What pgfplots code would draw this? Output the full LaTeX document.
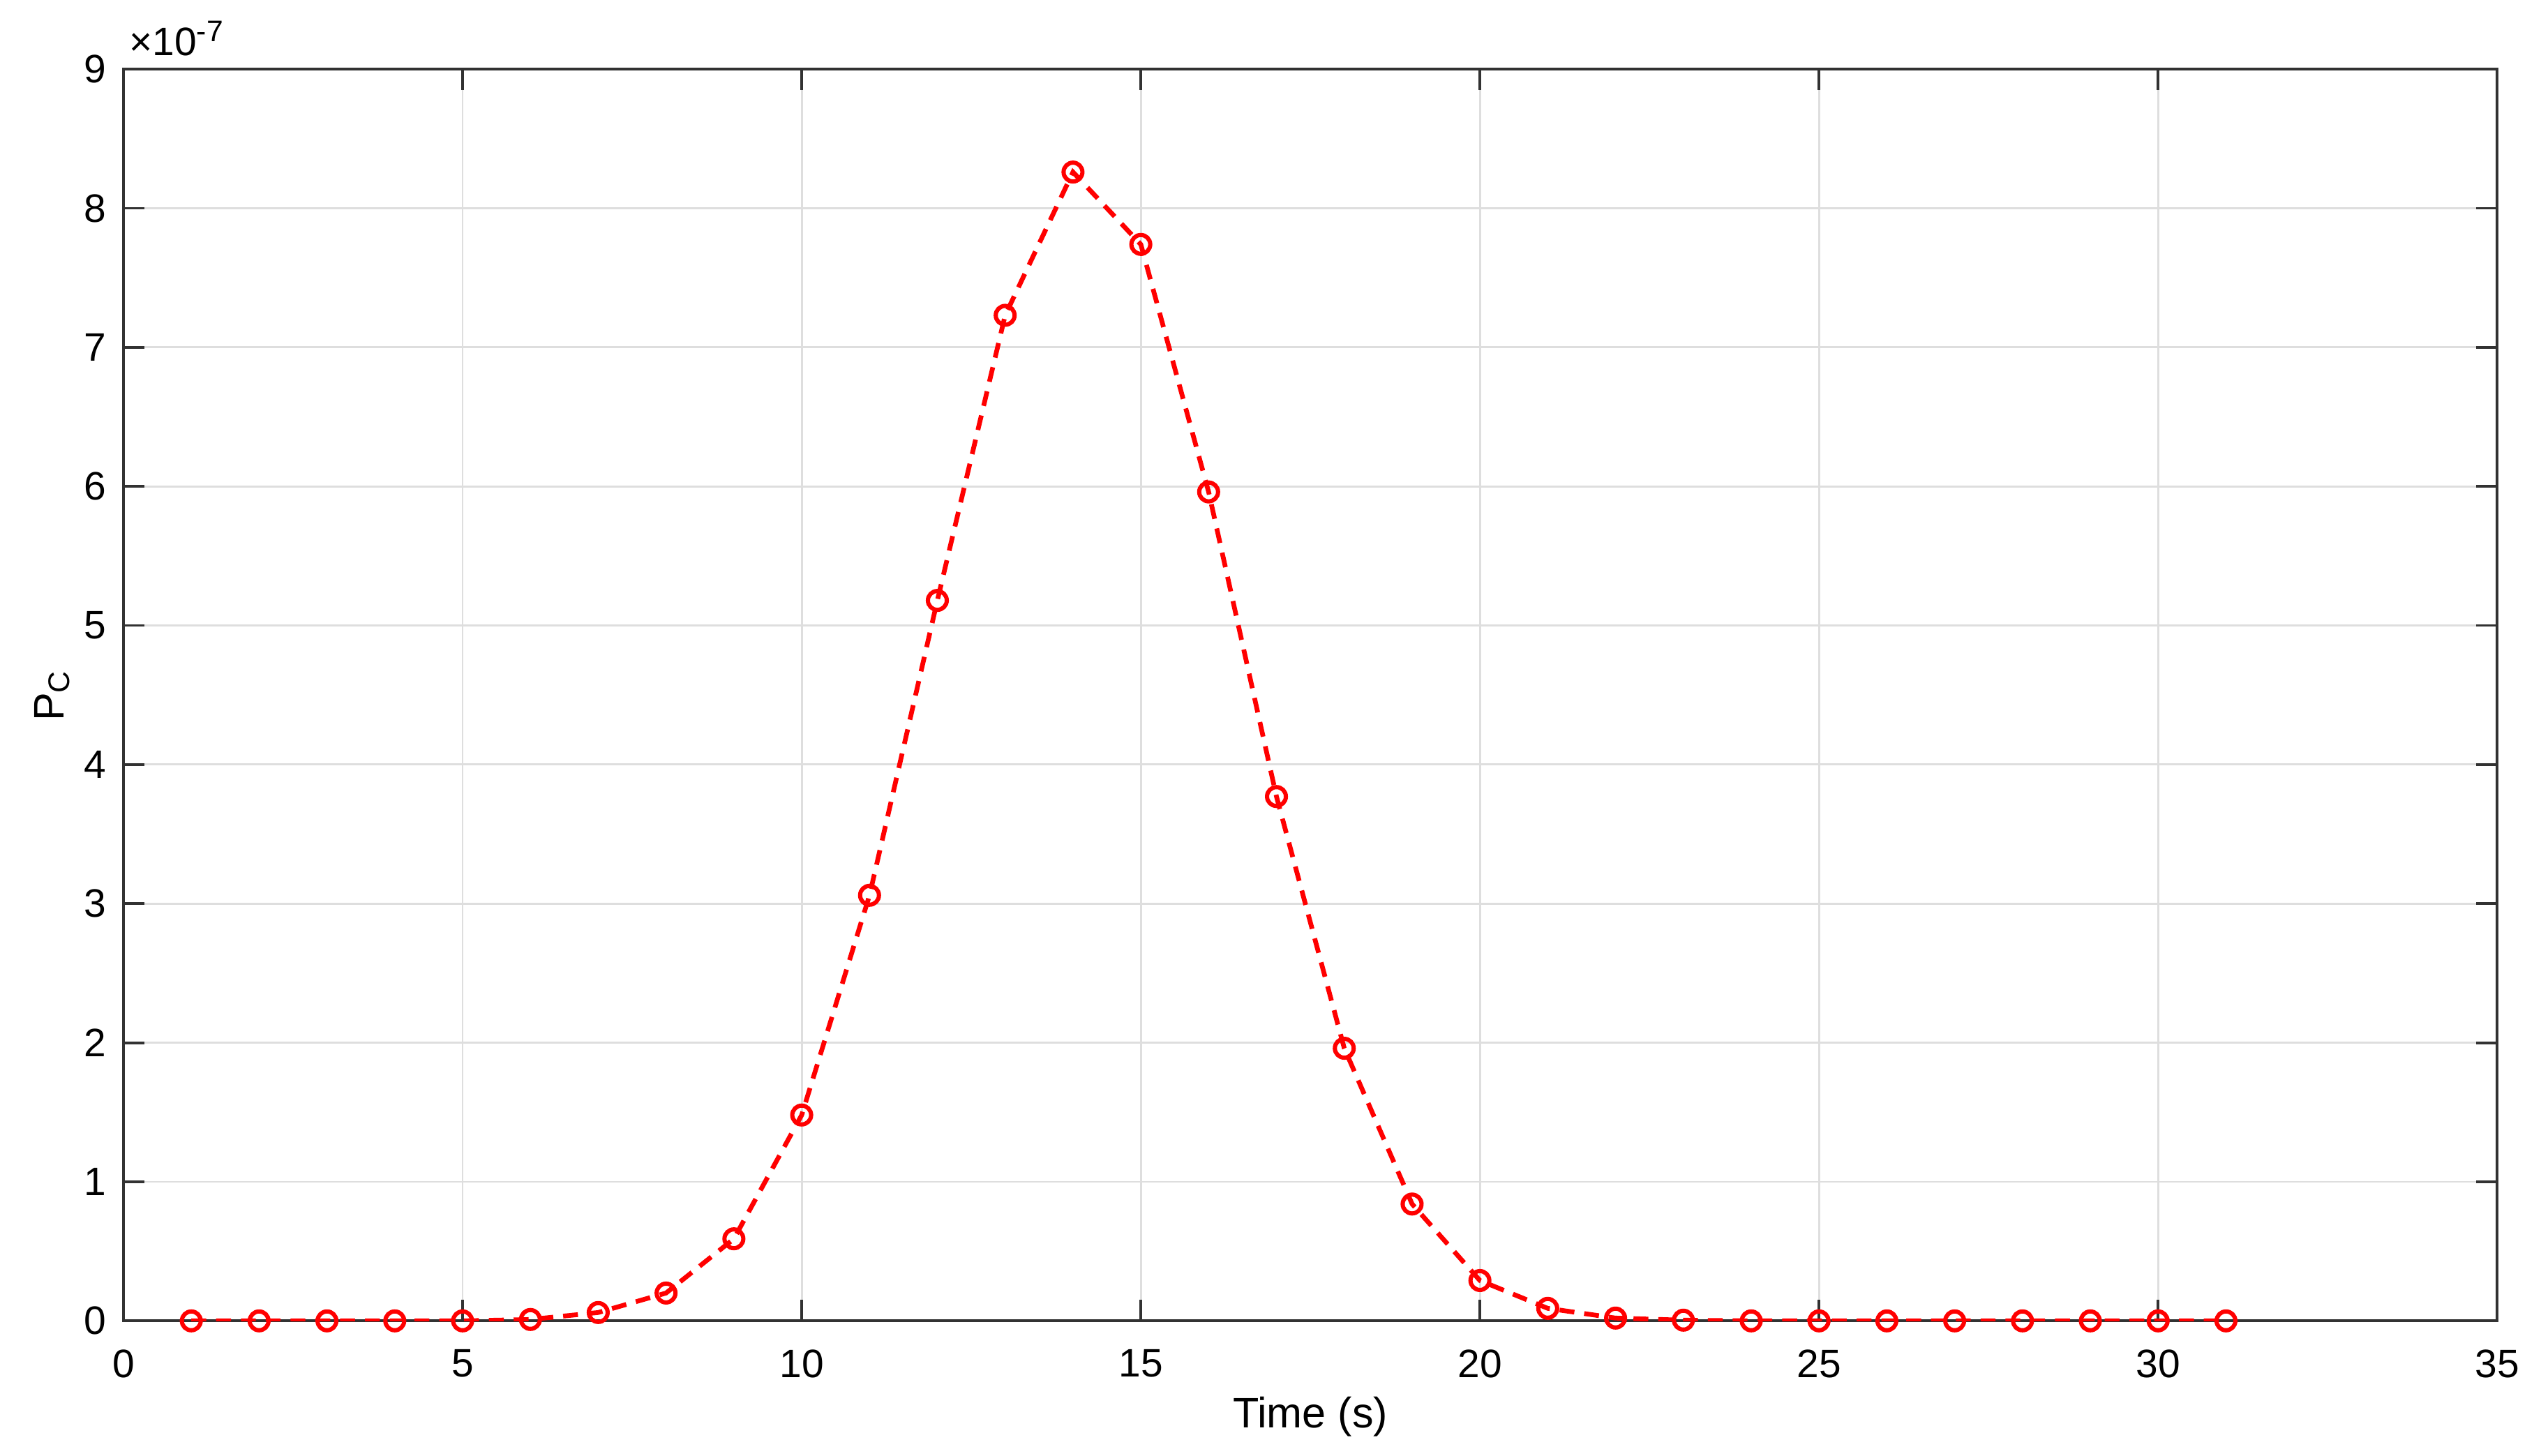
\documentclass[border=0pt]{standalone}
\usepackage{fontspec}
\setmainfont{Liberation Sans}
\usepackage{pgfplots}
\pgfplotsset{compat=1.18}
\definecolor{axgray}{RGB}{50,50,50}
\definecolor{gridgray}{RGB}{222,222,222}
\begin{document}
\begin{tikzpicture}
\begin{axis}[
  scale only axis,
  width=16.82cm, height=8.87cm,
  xmin=0, xmax=35, ymin=0, ymax=9e-7,
  xtick={0,5,10,15,20,25,30,35},
  ytick={0,1e-7,2e-7,3e-7,4e-7,5e-7,6e-7,7e-7,8e-7,9e-7},
  scaled y ticks=base 10:7,
  ytick scale label code/.code={×10\textsuperscript{#1}},
  every y tick scale label/.style={at={(rel axis cs:0,1)}, anchor=south west, inner sep=0pt, xshift=1pt, yshift=2.5pt, font=\fontsize{8}{9}\selectfont},
  /pgf/number format/assume math mode=true,
  tick label style={font=\fontsize{8}{9.5}\selectfont, color=black},
  label style={font=\fontsize{8.6}{10}\selectfont},
  xlabel={Time (s)},
  ylabel={P\textsubscript{C}},
  xlabel style={yshift=3pt},
  ylabel style={yshift=-4pt},
  grid=major,
  major grid style={line width=0.4pt, color=gridgray},
  axis line style={color=axgray, line width=0.55pt},
  tick style={color=axgray, line width=0.55pt},
  major tick length=0.148cm,
  tick align=inside,
  xticklabel style={yshift=-2.3pt},
  yticklabel style={xshift=0pt},
]
\addplot[red, line width=0.95pt, dash pattern=on 3pt off 2pt,
  mark=o, mark size=1.9pt, mark options={solid, line width=0.85pt}]
coordinates {
(1,0) (2,0) (3,0) (4,0) (5,0)
(6,0.01e-7) (7,0.06e-7) (8,0.20e-7) (9,0.59e-7) (10,1.48e-7)
(11,3.06e-7) (12,5.18e-7) (13,7.23e-7) (14,8.26e-7) (15,7.74e-7)
(16,5.96e-7) (17,3.77e-7) (18,1.96e-7) (19,0.84e-7) (20,0.29e-7)
(21,0.09e-7) (22,0.02e-7) (23,0.005e-7) (24,0) (25,0)
(26,0) (27,0) (28,0) (29,0) (30,0) (31,0)
};
\end{axis}
\pgfresetboundingbox
\path[use as bounding box] ([shift={(-0.875cm,-0.955cm)}]current axis.south west) rectangle ([shift={(0.31cm,0.49cm)}]current axis.north east);
\end{tikzpicture}
\end{document}
